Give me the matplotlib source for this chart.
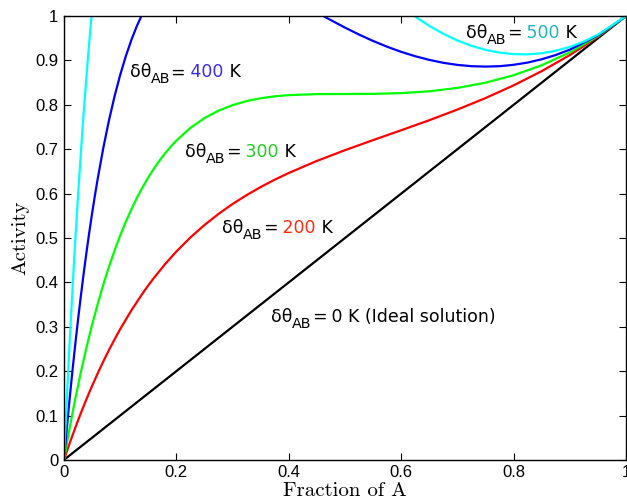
# Activity of A in a regular solution for several interaction temperatures.

import matplotlib
matplotlib.use('Agg')
import matplotlib.pyplot as plt

# Data
## ideal solution (dtheta = 0 K)
x_ideal = [0.0, 1.0]
a_ideal = [0.0, 1.0]

## dtheta = 200 K
x_200 = [0.0, 0.005, 0.01, 0.02, 0.03, 0.04, 0.05, 0.06, 0.07, 0.08, 0.09, 0.10, 0.12, 0.14, 0.15, 0.16, 0.18, 0.20,
         0.225, 0.25, 0.275, 0.30, 0.325, 0.35, 0.375, 0.40, 0.45, 0.50, 0.55, 0.60, 0.65, 0.70, 0.75, 0.80, 0.85,
         0.90, 0.95, 1.0]
a_200 = [0.0, 0.0187, 0.0369, 0.0720, 0.1052, 0.1367, 0.1666, 0.1949, 0.2218, 0.2473, 0.2715, 0.2945, 0.3370, 0.3753,
         0.3931, 0.4099, 0.4412, 0.4695, 0.5012, 0.5292, 0.5542, 0.5766, 0.5966, 0.6148, 0.6313, 0.6464, 0.6736,
         0.6978, 0.7205, 0.7427, 0.7653, 0.7893, 0.8152, 0.8438, 0.8759, 0.9121, 0.9532, 1.0]

## dtheta = 300 K
x_300 = [0.0, 0.005, 0.01, 0.015, 0.02, 0.03, 0.04, 0.05, 0.06, 0.07, 0.08, 0.09, 0.10, 0.11, 0.12, 0.13, 0.14, 0.15,
         0.16, 0.17, 0.18, 0.19, 0.20, 0.225, 0.25, 0.275, 0.30, 0.325, 0.35, 0.375, 0.40, 0.45, 0.50, 0.55, 0.60,
         0.65, 0.70, 0.75, 0.80, 0.85, 0.90, 0.95, 1.0]
a_300 = [0.0, 0.0362, 0.0710, 0.1044, 0.1365, 0.1970, 0.2527, 0.3040, 0.3513, 0.3948, 0.4348, 0.4716, 0.5053, 0.5363,
         0.5647, 0.5907, 0.6145, 0.6363, 0.6562, 0.6743, 0.6908, 0.7057, 0.7193, 0.7480, 0.7701, 0.7868, 0.7993,
         0.8084, 0.8148, 0.8191, 0.8218, 0.8241, 0.8244, 0.8246, 0.8263, 0.8304, 0.8380, 0.8498, 0.8666, 0.8891,
         0.9182, 0.9548, 1.0]

## dtheta = 400 K (leaves the frame between x = 0.14 and x = 0.46)
x_400_left = [0.0, 0.005, 0.01, 0.015, 0.02, 0.025, 0.03, 0.035, 0.04, 0.045, 0.05, 0.055, 0.06, 0.07, 0.08, 0.09,
              0.10, 0.11, 0.12, 0.13, 0.14]
a_400_left = [0.0, 0.0701, 0.1365, 0.1994, 0.2590, 0.3154, 0.3688, 0.4193, 0.4671, 0.5122, 0.5549, 0.5951, 0.6331,
              0.7027, 0.7645, 0.8190, 0.8671, 0.9094, 0.9463, 0.9784, 1.0062]
x_400_right = [0.45, 0.46, 0.47, 0.50, 0.525, 0.55, 0.575, 0.60, 0.625, 0.65, 0.675, 0.70, 0.725, 0.75, 0.775, 0.80,
               0.825, 0.85, 0.875, 0.90, 0.95, 1.0]
a_400_right = [1.0082, 1.0012, 0.9941, 0.9739, 0.9582, 0.9438, 0.9308, 0.9193, 0.9094, 0.9012, 0.8946, 0.8899, 0.8870,
               0.8861, 0.8870, 0.8901, 0.8952, 0.9026, 0.9122, 0.9243, 0.9563, 1.0]

## dtheta = 500 K (leaves the frame between x = 0.05 and x = 0.62)
x_500_left = [0.0, 0.005, 0.01, 0.015, 0.02, 0.025, 0.03, 0.035, 0.04, 0.045, 0.05]
a_500_left = [0.0, 0.1356, 0.2623, 0.3808, 0.4913, 0.5944, 0.6906, 0.7801, 0.8634, 0.9409, 1.0127]
x_500_right = [0.60, 0.62, 0.63, 0.65, 0.675, 0.70, 0.725, 0.75, 0.775, 0.80, 0.825, 0.85, 0.875, 0.90, 0.925, 0.95, 1.0]
a_500_right = [1.0228, 1.0033, 0.9943, 0.9778, 0.9599, 0.9449, 0.9329, 0.9237, 0.9175, 0.9141, 0.9137, 0.9162, 0.9218,
               0.9305, 0.9425, 0.9580, 1.0]

x_ticks = [0, 0.2, 0.4, 0.6, 0.8, 1]
x_tick_labels = ['0', '0.2', '0.4', '0.6', '0.8', '1']
y_ticks = [0, 0.1, 0.2, 0.3, 0.4, 0.5, 0.6, 0.7, 0.8, 0.9, 1]
y_tick_labels = ['0', '0.1', '0.2', '0.3', '0.4', '0.5', '0.6', '0.7', '0.8', '0.9', '1']

fig = plt.figure(figsize=(6.27, 5.01), dpi=100)
ax = fig.add_axes([0.102, 0.082, 0.8965, 0.886])

lw = 1.6
ax.plot(x_ideal, a_ideal, color='black', linewidth=lw)
ax.plot(x_200, a_200, color='red', linewidth=lw)
ax.plot(x_300, a_300, color=(0, 1, 0), linewidth=lw)
ax.plot(x_400_left, a_400_left, color='blue', linewidth=lw)
ax.plot(x_400_right, a_400_right, color='blue', linewidth=lw)
ax.plot(x_500_left, a_500_left, color='cyan', linewidth=lw)
ax.plot(x_500_right, a_500_right, color='cyan', linewidth=lw)

ax.set_xlim(0, 1)
ax.set_ylim(0, 1)
ax.set_xticks(x_ticks)
ax.set_xticklabels(x_tick_labels)
ax.set_yticks(y_ticks)
ax.set_yticklabels(y_tick_labels)
ax.tick_params(direction='in', length=5, width=0.8, top=True, right=True,
               labelsize=12, pad=4)
for lab in ax.get_xticklabels() + ax.get_yticklabels():
    lab.set_fontfamily('Liberation Sans')
for sp in ax.spines.values():
    sp.set_linewidth(1.0)

ax.set_xlabel('Fraction of A', fontfamily='cmr10', fontsize=15, labelpad=1)
ax.set_ylabel('Activity', fontfamily='cmr10', fontsize=15, labelpad=4)


## Function to write one label whose pieces have different colours / sizes
## each piece: (text, colour, size factor, vertical shift in pixels)
def colored_label(x, y, pieces, size=12.5):
    renderer = fig.canvas.get_renderer()
    disp_x, disp_y = ax.transData.transform((x, y))
    for text, color, scale, dy in pieces:
        t = ax.text(0, 0, text, color=color, fontsize=size * scale, fontfamily='DejaVu Sans',
                    ha='left', va='baseline')
        t.set_position(ax.transData.inverted().transform((disp_x, disp_y + dy)))
        bb = t.get_window_extent(renderer)
        disp_x = bb.x1


head = [('δθ', 'black', 1.0, 0), ('AB', 'black', 0.82, -6), ('=', 'black', 1.0, 0)]
colored_label(0.117, 0.862, head + [(' 400', '#3a2cf0', 1.0, 0), (' K', 'black', 1.0, 0)])
colored_label(0.215, 0.682, head + [(' 300', '#22cc22', 1.0, 0), (' K', 'black', 1.0, 0)])
colored_label(0.281, 0.511, head + [(' 200', '#ff2a10', 1.0, 0), (' K', 'black', 1.0, 0)])
colored_label(0.368, 0.311, head + [(' 0 K (Ideal solution)', 'black', 1.0, 0)])
colored_label(0.715, 0.950, head + [(' 500', '#20b4c0', 1.0, 0), (' K', 'black', 1.0, 0)])

fig.savefig('out.png', dpi=100)
